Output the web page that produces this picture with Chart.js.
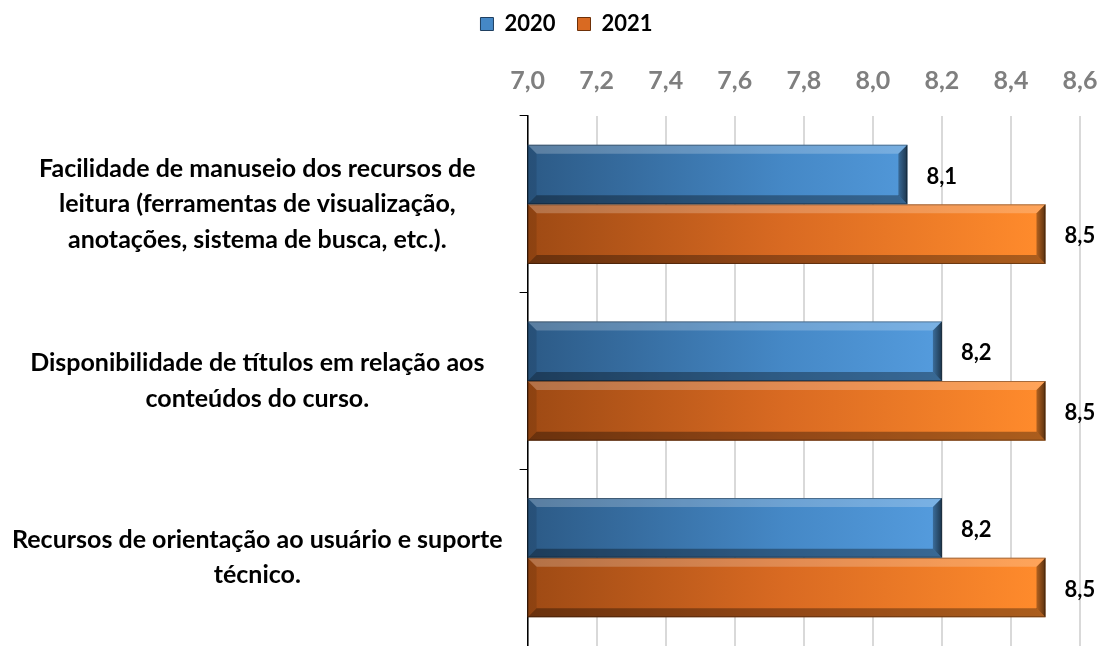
<!DOCTYPE html>
<html>
<head>
<meta charset="utf-8">
<script src="https://cdn.jsdelivr.net/npm/chart.js@4/dist/chart.umd.min.js"></script>
<style>
  html, body { margin: 0; padding: 0; background: #ffffff; }
  #wrap { width: 1097px; height: 646px; }
</style>
</head>
<body>
<div id="wrap"><canvas id="c" width="1097" height="646"></canvas></div>
<script>
// ---- data ----
const categories = [
  ["Facilidade de manuseio dos recursos de", "leitura (ferramentas de visualização,", "anotações, sistema de busca, etc.)."],
  ["Disponibilidade de títulos em relação aos", "conteúdos do curso."],
  ["Recursos de orientação ao usuário e suporte", "técnico."]
];
const seriesNames = ["2020", "2021"];
const values2020 = [8.1, 8.2, 8.2];
const values2021 = [8.5, 8.5, 8.5];
const axisMin = 7.0, axisMax = 8.6, axisStep = 0.2;

// ---- style ----
const FONT = "Lato, 'Open Sans', sans-serif";
const palettes = {
  "2020": { dark: "#2c5a86", mid: "#4588c6", light: "#5ea8ec", edge: "#1f3f60" },
  "2021": { dark: "#9e4a14", mid: "#d96a22", light: "#ff8b2c", edge: "#6e3008" }
};

function fmt(v) { return v.toFixed(1).replace('.', ','); }

function gradFor(name) {
  return function(ctx) {
    const chart = ctx.chart;
    const area = chart.chartArea;
    if (!area) return palettes[name].mid;
    const p = palettes[name];
    const g = chart.ctx.createLinearGradient(area.left, 0, area.right - 40, 0);
    g.addColorStop(0, p.dark);
    g.addColorStop(0.5, p.mid);
    g.addColorStop(1, p.light);
    return g;
  };
}

// legend: a little extra space below, and shifted right like the original
const legendTweak = {
  id: 'legendTweak',
  beforeInit(chart) {
    const lg = chart.legend;
    const origFit = lg.fit;
    lg.fit = function() {
      origFit.call(this);
      this.height += 1;
    };
    const origDraw = lg.draw;
    lg.draw = function(area) {
      const c = this.ctx;
      c.save();
      c.translate(13, 0);
      origDraw.call(this, area);
      c.restore();
    };
  }
};

// bevel + data labels plugin
const bevelPlugin = {
  id: 'bevel',
  afterDatasetsDraw(chart) {
    const c = chart.ctx;
    const area = chart.chartArea;
    chart.data.datasets.forEach((ds, di) => {
      const meta = chart.getDatasetMeta(di);
      meta.data.forEach((el, i) => {
        const x0 = Math.max(Math.min(el.base, el.x), area.left);
        const x1 = el.x;
        const h = el.height;
        const y0 = el.y - h / 2, y1 = el.y + h / 2;
        const b = 9;
        c.save();
        // top highlight
        c.beginPath();
        c.moveTo(x0, y0); c.lineTo(x1, y0); c.lineTo(x1 - b, y0 + b); c.lineTo(x0 + b, y0 + b); c.closePath();
        c.fillStyle = 'rgba(255,255,255,0.22)';
        c.fill();
        // bottom shade
        c.beginPath();
        c.moveTo(x0, y1); c.lineTo(x1, y1); c.lineTo(x1 - b, y1 - b); c.lineTo(x0 + b, y1 - b); c.closePath();
        c.fillStyle = 'rgba(0,0,0,0.33)';
        c.fill();
        // right shade
        const rg = c.createLinearGradient(x1 - b, 0, x1, 0);
        rg.addColorStop(0, 'rgba(0,0,0,0.30)');
        rg.addColorStop(1, 'rgba(0,0,0,0.65)');
        c.beginPath();
        c.moveTo(x1, y0); c.lineTo(x1, y1); c.lineTo(x1 - b, y1 - b); c.lineTo(x1 - b, y0 + b); c.closePath();
        c.fillStyle = rg;
        c.fill();
        // left
        c.beginPath();
        c.moveTo(x0, y0); c.lineTo(x0, y1); c.lineTo(x0 + b, y1 - b); c.lineTo(x0 + b, y0 + b); c.closePath();
        c.fillStyle = 'rgba(0,0,0,0.10)';
        c.fill();
        // outline
        c.strokeStyle = 'rgba(0,0,0,0.35)';
        c.lineWidth = 1;
        c.strokeRect(x0 + 0.5, y0 + 0.5, x1 - x0 - 1, h - 1);
        // label
        c.fillStyle = '#000';
        c.font = "bold 22px " + FONT;
        c.textBaseline = 'middle';
        c.textAlign = 'left';
        c.fillText(fmt(ds.data[i]), x1 + 19, el.y + 2);
        c.restore();
      });
    });
  }
};

new Chart(document.getElementById('c'), {
  type: 'bar',
  data: {
    labels: categories,
    datasets: [
      { label: seriesNames[0], data: values2020, backgroundColor: gradFor("2020"), borderWidth: 0 },
      { label: seriesNames[1], data: values2021, backgroundColor: gradFor("2021"), borderWidth: 0 }
    ]
  },
  options: {
    indexAxis: 'y',
    responsive: false,
    animation: false,
    events: [],
    categoryPercentage: 0.675,
    barPercentage: 1.0,
    layout: { padding: { left: 10, right: 0, top: -9, bottom: 0 } },
    plugins: {
      tooltip: { enabled: false },
      legend: {
        position: 'top',
        align: 'center',
        labels: {
          boxWidth: 13,
          boxHeight: 13,
          padding: 22,
          color: '#000',
          font: { family: FONT, size: 22, weight: 'bold' },
          generateLabels(chart) {
            return seriesNames.map((n, i) => ({
              text: n,
              fillStyle: palettes[n].mid,
              strokeStyle: palettes[n].edge,
              lineWidth: 1,
              datasetIndex: i,
              hidden: false
            }));
          }
        }
      }
    },
    scales: {
      x: {
        position: 'top',
        min: axisMin,
        max: axisMax,
        afterFit(scale) { scale.paddingLeft = 0; scale.paddingRight = 17; },
        ticks: {
          stepSize: axisStep,
          color: '#7f7f7f',
          padding: 20,
          font: { family: FONT, size: 25, weight: 'bold' },
          callback: (v) => fmt(v)
        },
        grid: { color: '#d9d9d9', lineWidth: 2, drawTicks: false },
        border: { display: false }
      },
      y: {
        afterFit(scale) { scale.paddingTop = 0; scale.paddingBottom = 0; scale.width -= 15; },
        ticks: {
          crossAlign: 'center',
          color: '#000',
          padding: 17,
          font: { family: FONT, size: 25, weight: 'bold', lineHeight: 1.42 }
        },
        grid: { display: true, drawOnChartArea: false, drawTicks: true, tickLength: 8, color: '#000', lineWidth: 1 },
        border: { display: true, color: '#000', width: 1.5 }
      }
    }
  },
  plugins: [legendTweak, bevelPlugin]
});
</script>
</body>
</html>
